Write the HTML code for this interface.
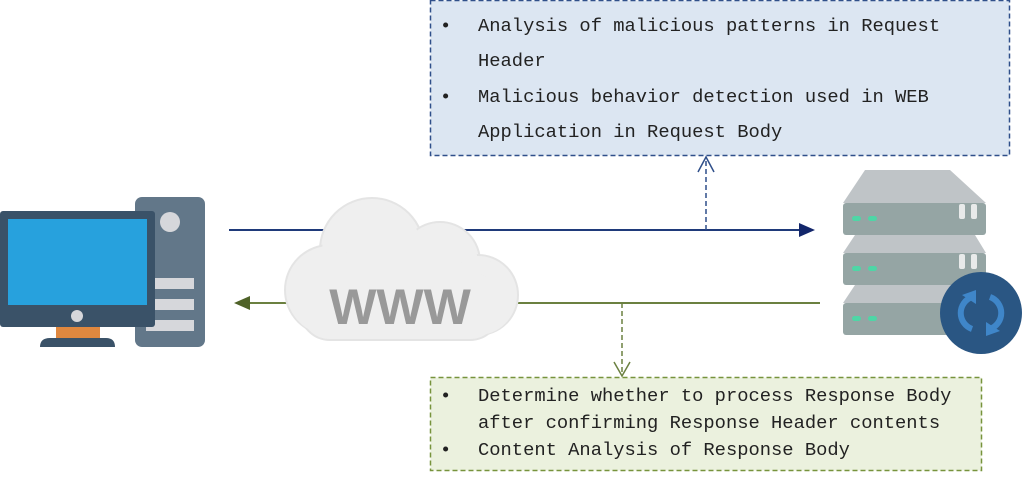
<!DOCTYPE html>
<html><head><meta charset="utf-8"><style>
html,body{margin:0;padding:0;background:#fff;width:1024px;height:477px;overflow:hidden}
.box{position:absolute;left:0;top:0;font-family:"Liberation Mono",monospace;font-size:18.8px;color:#222}
.box .l{position:absolute;white-space:pre}
.box .b{position:absolute}
</style></head><body>
<svg width="1024" height="477" style="position:absolute;left:0;top:0">
<rect x="430.5" y="0.5" width="579" height="155" fill="#dce6f2" stroke="#2f4f8a" stroke-width="1.5" stroke-dasharray="5,3"/>
<rect x="430.5" y="377.5" width="551" height="93" fill="#ebf1de" stroke="#77933c" stroke-width="1.5" stroke-dasharray="5,3"/>
<line x1="229" y1="230" x2="800" y2="230" stroke="#1f3a7a" stroke-width="2"/>
<polygon points="799,223 815,230 799,237" fill="#13266b"/>
<line x1="706" y1="230" x2="706" y2="157" stroke="#2f4f8a" stroke-width="1.5" stroke-dasharray="5,3"/>
<polyline points="698,172 706,157 714,172" fill="none" stroke="#2f4f8a" stroke-width="1.5"/>
<line x1="820" y1="303" x2="248" y2="303" stroke="#6b8040" stroke-width="2"/>
<polygon points="250,296 234,303 250,310" fill="#4f6228"/>
<line x1="622" y1="303" x2="622" y2="375" stroke="#6b8040" stroke-width="1.5" stroke-dasharray="5,3"/>
<polyline points="614,362 622,376 630,362" fill="none" stroke="#6b8040" stroke-width="1.5"/>
<rect x="135" y="197" width="70" height="150" rx="7" fill="#627789"/>
<circle cx="170" cy="222" r="10" fill="#d6d7db"/>
<rect x="146" y="278" width="48" height="11" fill="#d6d7db"/>
<rect x="146" y="299" width="48" height="11" fill="#d6d7db"/>
<rect x="146" y="320" width="48" height="11" fill="#d6d7db"/>
<rect x="0" y="211" width="155" height="116" rx="3" fill="#3a5268"/>
<rect x="8" y="219" width="139" height="86" fill="#27a1dd"/>
<circle cx="77" cy="316" r="6" fill="#d6d7db"/>
<rect x="56" y="327" width="44" height="13" fill="#e0883f"/>
<path d="M40,347 Q40,338 50,338 L106,338 Q115,338 115,347 Z" fill="#3a5268"/>
<g fill="#efefef" stroke="#e4e4e4" stroke-width="2">
<circle cx="372" cy="250" r="52"/>
<circle cx="440" cy="262" r="40"/>
<circle cx="330" cy="290" r="45"/>
<circle cx="478" cy="295" r="40"/>
<rect x="300" y="270" width="200" height="70" rx="30"/>
</g>
<g fill="#efefef"><circle cx="372" cy="252" r="50"/><circle cx="440" cy="264" r="38"/><circle cx="330" cy="292" r="43"/><circle cx="478" cy="297" r="38"/><rect x="302" y="272" width="196" height="66" rx="28"/></g>
<text x="400" y="324" text-anchor="middle" font-family="Liberation Sans,sans-serif" font-weight="bold" font-size="50" fill="#999">WWW</text>
<polygon points="865,170 950,170 986,203 843,203" fill="#bfc4c7"/>
<rect x="843" y="203" width="143" height="32" rx="3" fill="#95a5a4"/>
<polygon points="855,235 975,235 986,253 843,253" fill="#bfc4c7"/>
<rect x="843" y="253" width="143" height="32" rx="3" fill="#95a5a4"/>
<polygon points="855,285 975,285 986,303 843,303" fill="#bfc4c7"/>
<rect x="843" y="303" width="143" height="32" rx="3" fill="#95a5a4"/>
<g fill="#4ed6a6"><rect x="852" y="216" width="9" height="5" rx="2.5"/><rect x="868" y="216" width="9" height="5" rx="2.5"/>
<rect x="852" y="266" width="9" height="5" rx="2.5"/><rect x="868" y="266" width="9" height="5" rx="2.5"/>
<rect x="852" y="316" width="9" height="5" rx="2.5"/><rect x="868" y="316" width="9" height="5" rx="2.5"/></g>
<g fill="#e8eaea"><rect x="959" y="204" width="6" height="15" rx="2"/><rect x="971" y="204" width="6" height="15" rx="2"/>
<rect x="959" y="254" width="6" height="15" rx="2"/><rect x="971" y="254" width="6" height="15" rx="2"/></g>
<circle cx="981" cy="313" r="41" fill="#2a5683"/>
<g fill="none" stroke="#3f86c9" stroke-width="6">
<path d="M972,297 A17,17 0 0 0 972,329"/>
<path d="M990,329 A17,17 0 0 0 990,297"/>
</g>
<polygon points="962,295 976,290 976,304" fill="#3f86c9"/>
<polygon points="1000,331 986,336 986,322" fill="#3f86c9"/>
</svg>
<div class="box">
<div class="b" style="left:440px;top:15px">•</div><div class="l" style="left:478px;top:15px">Analysis of malicious patterns in Request</div>
<div class="l" style="left:478px;top:50px">Header</div>
<div class="b" style="left:440px;top:86px">•</div><div class="l" style="left:478px;top:86px">Malicious behavior detection used in WEB</div>
<div class="l" style="left:478px;top:121px">Application in Request Body</div>
<div class="b" style="left:440px;top:385px">•</div><div class="l" style="left:478px;top:385px">Determine whether to process Response Body</div>
<div class="l" style="left:478px;top:412px">after confirming Response Header contents</div>
<div class="b" style="left:440px;top:439px">•</div><div class="l" style="left:478px;top:439px">Content Analysis of Response Body</div>
</div>
</body></html>
